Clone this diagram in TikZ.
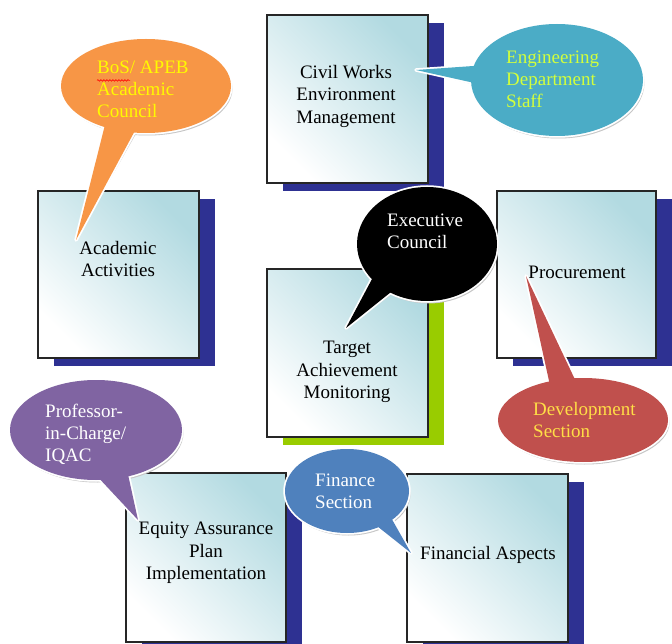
\documentclass[tikz,border=0pt]{standalone}
\usepackage{fontspec}
\setmainfont{Liberation Serif}
\usetikzlibrary{shadows,decorations.pathmorphing,calc}
\definecolor{shadowblue}{RGB}{46,49,146}
\definecolor{shadowgreen}{RGB}{153,204,0}
\definecolor{boxteal}{RGB}{178,218,225}
\definecolor{connGray}{RGB}{128,128,128}
\definecolor{bOrange}{RGB}{247,150,70}
\definecolor{bTeal}{RGB}{75,172,198}
\definecolor{bRed}{RGB}{192,80,77}
\definecolor{bPurple}{RGB}{128,100,162}
\definecolor{bBlue}{RGB}{79,129,189}
\definecolor{txtYellow}{RGB}{255,250,0}
\definecolor{txtLime}{RGB}{210,255,60}
\definecolor{txtGold}{RGB}{255,222,70}
\pgfdeclarelayer{background}
\pgfsetlayers{background,main}
% bubble: cx, cy, rx, ry, angle1, angle2, tip coordinate name, colour
\newcommand{\mybubble}[8]{%
  \fill[gray!45, xshift=1.5pt, yshift=-2.5pt] (#1,#2) ellipse [x radius=#3, y radius=#4];
  \fill[gray!45, xshift=1.5pt, yshift=-2.5pt] ($(#1,#2)+({0.8*#3*cos(#5)},{0.8*#4*sin(#5)})$) -- (#7) -- ($(#1,#2)+({0.8*#3*cos(#6)},{0.8*#4*sin(#6)})$) -- cycle;
  \draw[bubbleline] (#1,#2) ellipse [x radius=#3, y radius=#4];
  \draw[bubbleline] ($(#1,#2)+({0.8*#3*cos(#5)},{0.8*#4*sin(#5)})$) -- (#7) -- ($(#1,#2)+({0.8*#3*cos(#6)},{0.8*#4*sin(#6)})$) -- cycle;
  \fill[#8] (#1,#2) ellipse [x radius=#3, y radius=#4];
  \fill[#8] ($(#1,#2)+({0.8*#3*cos(#5)},{0.8*#4*sin(#5)})$) -- (#7) -- ($(#1,#2)+({0.8*#3*cos(#6)},{0.8*#4*sin(#6)})$) -- cycle;
}
\tikzset{
  boxbase/.style={draw=black!85, line width=1.1pt, minimum width=161pt, minimum height=168pt,
    inner sep=0pt, top color=boxteal, bottom color=white, shading angle=-45},
  bluebox/.style={boxbase, drop shadow={shadow xshift=16pt, shadow yshift=-8pt, fill=shadowblue, opacity=1}},
  greenbox/.style={boxbase, drop shadow={shadow xshift=16pt, shadow yshift=-8pt, fill=shadowgreen, opacity=1}},
  boxtext/.style={align=center, inner sep=0pt, font=\fontsize{19}{22.5}\selectfont, text=black},
  btext/.style={align=left, anchor=west, inner sep=0pt, font=\fontsize{19}{22}\selectfont},
  conn/.style={draw=connGray, line width=2.5pt},
  bubbleline/.style={draw=white, line width=3.5pt, line join=round}
}
\begin{document}
\begin{tikzpicture}[x=1pt, y=-1pt]
\useasboundingbox[fill=white] (0,0) rectangle (672,644);

% boxes
\node[bluebox] (civil) at (347.5,99) {};
\node[bluebox, minimum height=167pt] (academic) at (118.5,274.5) {};
\node[greenbox] (target) at (347.5,353) {};
\node[bluebox, minimum width=159pt, minimum height=167pt] (procure) at (576.5,274.5) {};
\node[bluebox, minimum width=160pt, minimum height=169pt] (equity) at (206,557.5) {};
\node[bluebox] (finance) at (487.5,558) {};

% connectors (behind)
\begin{pgfonlayer}{background}
\draw[conn] (civil.center) -- (target.center);
\draw[conn] (academic.center) -- (target.center);
\draw[conn] (procure.center) -- (target.center);
\draw[conn] (equity.center) -- (target.center);
\draw[conn] (finance.center) -- (target.center);
\end{pgfonlayer}

% box texts
\node[boxtext] (civilT) at (346,96) {Civil Works\\Environment\\Management};
\node[boxtext] (academicT) at (118,259) {Academic\\Activities};
\node[boxtext] (targetT) at (347,372) {Target\\Achievement\\Monitoring};
\node[boxtext] (procureT) at (577,272) {Procurement};
\node[boxtext] (equityT) at (206,553) {Equity Assurance\\Plan\\Implementation};
\node[boxtext] (financeT) at (488,555) {Financial Aspects};

% callout tips
\coordinate (tipOrange) at (76,240);
\coordinate (tipTeal) at (416,70);
\coordinate (tipBlack) at (346,328);
\coordinate (tipRed) at (526,276);
\coordinate (tipPurple) at (138,520);
\coordinate (tipBlue) at (411,553);

% callouts
\mybubble{146}{86}{85}{47}{96}{125}{tipOrange}{bOrange}
\mybubble{557}{80}{86}{56}{172}{200}{tipTeal}{bTeal}
\mybubble{427}{244}{70}{57}{118}{150}{tipBlack}{black}
\mybubble{583}{420}{85}{42}{242}{266}{tipRed}{bRed}
\mybubble{96}{430}{86}{50}{64}{94}{tipPurple}{bPurple}
\mybubble{347}{491}{62}{42}{36}{62}{tipBlue}{bBlue}

% callout texts
\node[btext, text=txtYellow] (orangeT) at (97,89) {BoS/ APEB\\Academic\\Council};
\draw[red, line width=0.6pt, decorate, decoration={snake, amplitude=0.8pt, segment length=3pt}]
  ($(orangeT.north west)+(0,20)$) -- ($(orangeT.north west)+(33,20)$);
\node[btext, text=txtLime] (tealT) at (506,79) {Engineering\\Department\\Staff};
\node[btext, text=white] (blackT) at (387,231) {Executive\\Council};
\node[btext, text=txtGold] (redT) at (533,420) {Development\\Section};
\node[btext, text=white] (purpleT) at (45,434) {Professor-\\in-Charge/\\IQAC};
\node[btext, text=white] (blueT) at (315,491) {Finance\\Section};
\end{tikzpicture}
\end{document}
